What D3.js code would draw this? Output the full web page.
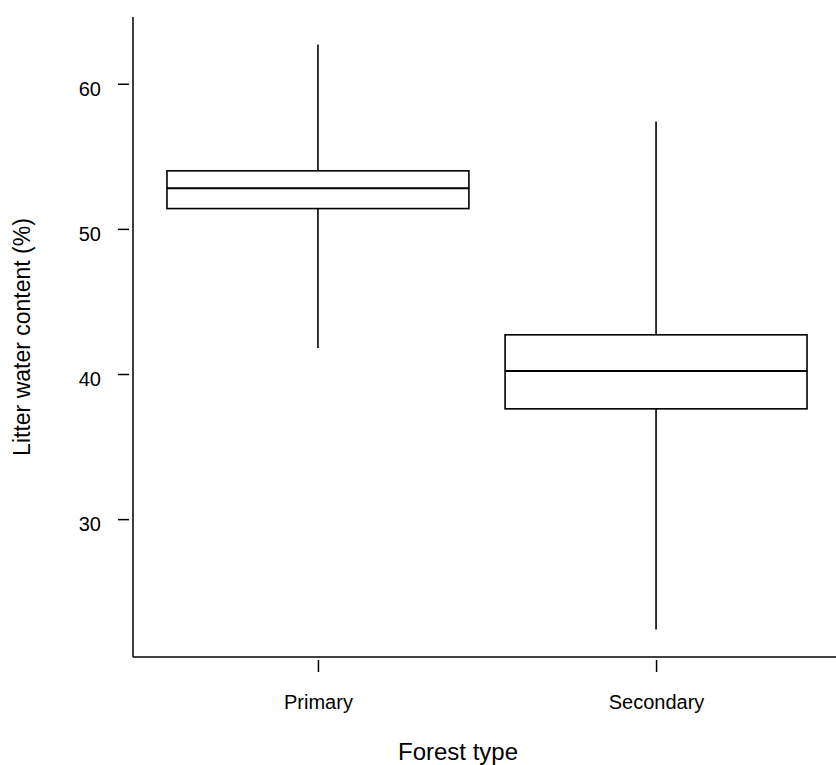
<!DOCTYPE html>
<html>
<head>
<meta charset="utf-8">
<script src="https://cdn.jsdelivr.net/npm/d3@7"></script>
<style>
  html, body { margin: 0; padding: 0; background: #fff; }
  svg { display: block; font-family: "Liberation Sans", Arial, Helvetica, sans-serif; }
</style>
</head>
<body>
<svg id="chart" width="836" height="765"></svg>
<script>
const categories = ["Primary", "Secondary"];
const whiskerLow = [41.8, 22.4];
const q1 = [51.4, 37.6];
const median = [52.8, 40.2];
const q3 = [54.0, 42.7];
const whiskerHigh = [62.7, 57.4];
const yTicks = [30, 40, 50, 60];
const xTitle = "Forest type";
const yTitle = "Litter water content (%)";

const svg = d3.select("#chart");

const y = d3.scaleLinear().domain([20.5, 64.6]).range([657, 17]);
const x = d3.scalePoint().domain(categories).range([133, 841]).padding(0.547);
const boxW = x.step() * 0.893;

// axis lines
svg.append("line").attr("x1", 133).attr("x2", 133).attr("y1", y(64.6)).attr("y2", y(20.5))
  .attr("stroke", "#000").attr("stroke-width", 1.5);
svg.append("line").attr("x1", 133).attr("x2", 836).attr("y1", y(20.5)).attr("y2", y(20.5))
  .attr("stroke", "#000").attr("stroke-width", 1.5);

// y axis ticks
const gy = svg.append("g").attr("transform", "translate(129,0)")
  .call(d3.axisLeft(y).tickValues(yTicks).tickSize(11).tickPadding(17).tickFormat(d3.format("d")));
gy.select(".domain").remove();
gy.selectAll(".tick line").attr("stroke", "#000").attr("stroke-width", 1.5);
gy.selectAll(".tick text").attr("fill", "#000").attr("font-size", 20)
  .attr("font-family", "Liberation Sans, Arial, sans-serif").attr("dy", "0.585em");

// x axis ticks
const gx = svg.append("g").attr("transform", "translate(0,660)")
  .call(d3.axisBottom(x).tickSize(12).tickPadding(23));
gx.select(".domain").remove();
gx.selectAll(".tick line").attr("stroke", "#000").attr("stroke-width", 1.5);
gx.selectAll(".tick text").attr("fill", "#000").attr("font-size", 20)
  .attr("font-family", "Liberation Sans, Arial, sans-serif");

// boxes
const data = categories.map((c, i) => ({c, lo: whiskerLow[i], q1: q1[i], med: median[i], q3: q3[i], hi: whiskerHigh[i]}));
const g = svg.append("g").selectAll("g").data(data).join("g");
g.append("line").attr("x1", d => x(d.c)).attr("x2", d => x(d.c))
  .attr("y1", d => y(d.hi)).attr("y2", d => y(d.q3)).attr("stroke", "#000").attr("stroke-width", 1.6);
g.append("line").attr("x1", d => x(d.c)).attr("x2", d => x(d.c))
  .attr("y1", d => y(d.q1)).attr("y2", d => y(d.lo)).attr("stroke", "#000").attr("stroke-width", 1.6);
g.append("rect").attr("x", d => x(d.c) - boxW / 2).attr("width", boxW)
  .attr("y", d => y(d.q3)).attr("height", d => y(d.q1) - y(d.q3))
  .attr("fill", "none").attr("stroke", "#000").attr("stroke-width", 1.6);
g.append("line").attr("x1", d => x(d.c) - boxW / 2).attr("x2", d => x(d.c) + boxW / 2)
  .attr("y1", d => y(d.med)).attr("y2", d => y(d.med)).attr("stroke", "#000").attr("stroke-width", 2);

// titles
svg.append("text").attr("x", 458).attr("y", 760).attr("text-anchor", "middle")
  .attr("font-size", 24).attr("fill", "#000").text(xTitle);
svg.append("text").attr("transform", "translate(30,337) rotate(-90)").attr("text-anchor", "middle")
  .attr("font-size", 23).attr("fill", "#000").text(yTitle);
</script>
</body>
</html>
